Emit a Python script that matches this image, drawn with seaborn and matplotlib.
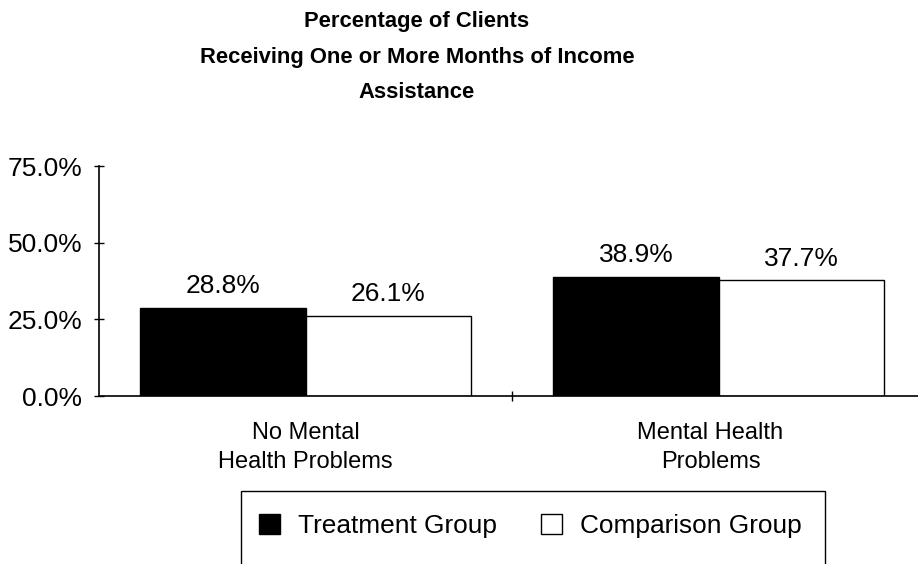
import matplotlib
matplotlib.use("Agg")
import matplotlib.pyplot as plt
import matplotlib.ticker as mticker
import matplotlib.transforms as mtransforms
from matplotlib.patches import Patch, Rectangle
import pandas as pd
import seaborn as sns

# Chart data
categories = ["No Mental\nHealth Problems", "Mental Health\nProblems"]
groups = ["Treatment Group", "Comparison Group"]
treatment = [28.8, 38.9]
comparison = [26.1, 37.7]
yticks = [0, 25, 50, 75]

df = pd.DataFrame({
    "category": categories * 2,
    "group": [groups[0]] * len(categories) + [groups[1]] * len(categories),
    "value": treatment + comparison,
})

sns.set_theme(style="white")
plt.rcParams["font.family"] = ["Liberation Sans", "DejaVu Sans"]

W, H = 918, 564
fig = plt.figure(figsize=(W / 100, H / 100), dpi=100)
ax = fig.add_axes([99 / W, (H - 396) / H, 826 / W, 230 / H])

palette = {groups[0]: "black", groups[1]: "white"}
sns.barplot(data=df, x="category", y="value", hue="group", order=categories,
            hue_order=groups, palette=palette, width=0.8, ax=ax,
            edgecolor="black", linewidth=1.0, legend=False, saturation=1)

# value labels above each bar
for container in ax.containers:
    ax.bar_label(container, labels=[f"{v:.1f}%" for v in container.datavalues],
                 padding=7, fontsize=19, color="black")

ax.set_xlim(-0.5, 1.5)
ax.set_ylim(0, 75)
ax.set_yticks(yticks)
ax.yaxis.set_major_formatter(mticker.FuncFormatter(lambda v, p: f"{v:.1f}%"))
ax.tick_params(axis="y", direction="inout", length=7, width=1, color="black",
               labelsize=19, pad=8.5, left=True)
ax.tick_params(axis="x", length=0, labelsize=17, pad=19)
ax.xaxis.set_minor_locator(mticker.FixedLocator([0.5]))
ax.tick_params(axis="x", which="minor", direction="inout", length=7, width=1,
               color="black", bottom=True)
ax.set_xlabel("")
ax.set_ylabel("")
for lbl in ax.get_xticklabels():
    lbl.set_color("black")
    lbl.set_linespacing(1.4)
for lbl in ax.get_yticklabels():
    lbl.set_color("black")
# the second category label sits a little left of its bar pair
xlabels = ax.get_xticklabels()
xlabels[1].set_transform(xlabels[1].get_transform()
                         + mtransforms.ScaledTranslation(-8 / 100, 0, fig.dpi_scale_trans))

for side in ["top", "right"]:
    ax.spines[side].set_visible(False)
for side in ["left", "bottom"]:
    ax.spines[side].set_color("black")
    ax.spines[side].set_linewidth(1.2)

# title
title_lines = ["Percentage of Clients", "Receiving One or More Months of Income", "Assistance"]
for i, line in enumerate(title_lines):
    fig.text(417 / W, 1 - (22 + 35 * i) / H, line, ha="center", va="center",
             fontsize=15.8, fontweight="bold", color="black")

# legend with a rectangular frame running off the bottom edge
fig.patches.append(Rectangle((241 / W, -10 / H), (825 - 241) / W, (H - 491 + 10) / H,
                             transform=fig.transFigure, facecolor="none",
                             edgecolor="black", linewidth=1.0))
handles = [Patch(facecolor="black", edgecolor="black", label=groups[0]),
           Patch(facecolor="white", edgecolor="black", label=groups[1])]
leg = fig.legend(handles=handles, loc="center left", ncol=2,
                 bbox_to_anchor=(259 / W, 1 - 526 / H), frameon=False,
                 fontsize=18.9, handlelength=0.8, handleheight=0.8,
                 handletextpad=0.68, columnspacing=1.7, borderpad=0,
                 borderaxespad=0)
for t in leg.get_texts():
    t.set_color("black")

fig.savefig("out.png", dpi=100, facecolor="white")
